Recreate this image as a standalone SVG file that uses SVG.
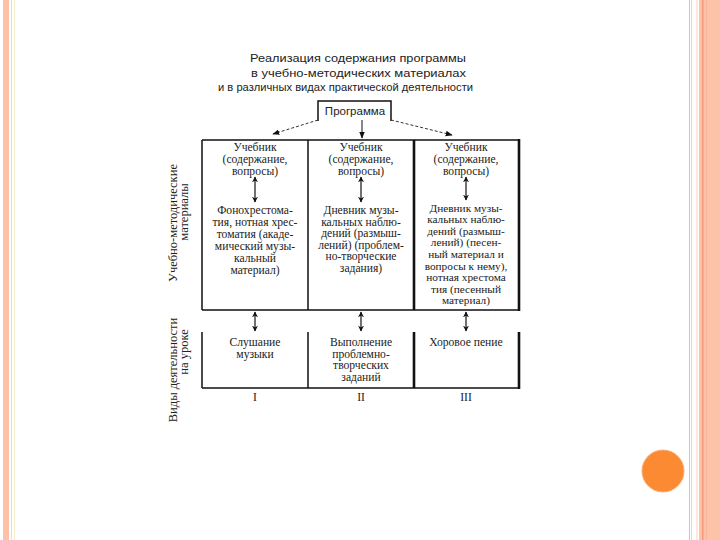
<svg xmlns="http://www.w3.org/2000/svg" width="720" height="540" viewBox="0 0 720 540">
<defs>
<marker id="ah" viewBox="0 0 10 10" refX="9" refY="5" markerWidth="7" markerHeight="7" orient="auto-start-reverse" markerUnits="userSpaceOnUse"><path d="M0,1 L10,5 L0,9 Z" fill="#111"/></marker>
<marker id="dh" viewBox="0 0 10 10" refX="9" refY="5" markerWidth="6" markerHeight="6" orient="auto-start-reverse" markerUnits="userSpaceOnUse"><path d="M0,0 L10,5 L0,10 L3,5 Z" fill="#111"/></marker>
<style>
.t{font-family:"Liberation Sans","DejaVu Sans",sans-serif;font-size:11.5px;fill:#222;text-anchor:middle}
.s{font-family:"Liberation Serif","DejaVu Serif",serif;font-size:11.6px;fill:#222;text-anchor:middle}
.c3{font-size:11.3px}
.v{font-family:"Liberation Serif","DejaVu Serif",serif;font-size:12.5px;fill:#222;text-anchor:middle}
.ln{stroke:#111;stroke-width:1.5;fill:none}
.th{stroke:#111;stroke-width:2.6;fill:none}
.da{stroke:#333;stroke-width:1;stroke-dasharray:3,2;fill:none;marker-end:url(#ah)}
.dbl{stroke:#111;stroke-width:1.2;fill:none;marker-start:url(#dh);marker-end:url(#dh)}
</style>
</defs>
<rect width="720" height="540" fill="#fff"/>
<g id="border">
<rect x="3" y="0" width="6" height="540" fill="#fdc2a6"/>
<rect x="11" y="0" width="1" height="540" fill="#f6d5e0"/>
<rect x="14" y="0" width="1" height="540" fill="#f7edc8"/>
<rect x="689" y="0" width="1" height="540" fill="#dcc0b0"/>
<rect x="691" y="0" width="1" height="540" fill="#ecd8cc"/>
<rect x="696" y="0" width="2" height="540" fill="#fde8da"/>
<rect x="699" y="0" width="21" height="540" fill="#fdc3aa"/>
<rect x="702" y="0" width="1.5" height="540" fill="#f39a7c"/>
<rect x="706" y="0" width="1" height="540" fill="#fbb59a"/>
<circle cx="663" cy="471" r="21" fill="#fb8a33" stroke="#fcae70" stroke-width="1"/>
</g>
<g id="title">
<text class="t" x="358" y="62" textLength="216" lengthAdjust="spacingAndGlyphs">Реализация содержания программы</text>
<text class="t" x="358.5" y="77" textLength="215" lengthAdjust="spacingAndGlyphs">в учебно-методических материалах</text>
<text class="t" x="345.5" y="91" textLength="255" lengthAdjust="spacingAndGlyphs">и в различных видах практической деятельности</text>
</g>
<g id="program">
<path class="ln" d="M318,121 V101 H391 V121" stroke-width="1.3"/>
<text class="t" x="355" y="115">Программа</text>
</g>
<g id="connectors">
<line class="da" x1="318" y1="120" x2="273" y2="134"/>
<line x1="362" y1="120" x2="362" y2="138" stroke="#111" stroke-width="1" marker-end="url(#ah)"/>
<line class="da" x1="391" y1="120" x2="452" y2="135"/>
<line class="dbl" x1="255" y1="177" x2="255" y2="202"/>
<line class="dbl" x1="361" y1="177" x2="361" y2="202"/>
<line class="dbl" x1="466" y1="177" x2="466" y2="200"/>
<line class="dbl" x1="255" y1="312" x2="255" y2="331"/>
<line class="dbl" x1="361" y1="312" x2="361" y2="331"/>
<line class="dbl" x1="466" y1="312" x2="466" y2="331"/>
</g>
<g id="upper-table">
<path class="ln" d="M202,140 H519 M202,310 H519 M202,140 V310 M308,140 V310"/>
<path class="th" d="M414,140 V310 M519,139 V311"/>
</g>
<g id="lower-table">
<path class="ln" d="M202,332 V388 M308,332 V388 M202,388 H519"/>
<path class="th" d="M414,332 V388 M519,332 V389"/>
</g>
<g id="col1">
<text class="s" x="255" y="151">Учебник</text>
<text class="s" x="255" y="163">(содержание,</text>
<text class="s" x="255" y="175">вопросы)</text>
<text class="s" x="255" y="214">Фонохрестома-</text>
<text class="s" x="255" y="226">тия, нотная хрес-</text>
<text class="s" x="255" y="238">томатия (акаде-</text>
<text class="s" x="255" y="250">мический музы-</text>
<text class="s" x="255" y="262">кальный</text>
<text class="s" x="255" y="274">материал)</text>
</g>
<g id="col2">
<text class="s" x="361" y="151">Учебник</text>
<text class="s" x="361" y="163">(содержание,</text>
<text class="s" x="361" y="175">вопросы)</text>
<text class="s" x="361" y="214">Дневник музы-</text>
<text class="s" x="361" y="225.5">кальных наблю-</text>
<text class="s" x="361" y="237">дений (размыш-</text>
<text class="s" x="361" y="248.5">лений) (проблем-</text>
<text class="s" x="361" y="260">но-творческие</text>
<text class="s" x="361" y="271.5">задания)</text>
</g>
<g id="col3">
<text class="s" x="466" y="151">Учебник</text>
<text class="s" x="466" y="163">(содержание,</text>
<text class="s" x="466" y="175">вопросы)</text>
<text class="s c3" x="466" y="211.5">Дневник музы-</text>
<text class="s c3" x="466" y="223.1">кальных наблю-</text>
<text class="s c3" x="466" y="234.7">дений (размыш-</text>
<text class="s c3" x="466" y="246.3">лений) (песен-</text>
<text class="s c3" x="466" y="257.9">ный материал и</text>
<text class="s c3" x="466" y="269.5">вопросы к нему),</text>
<text class="s c3" x="466" y="281.1">нотная хрестома</text>
<text class="s c3" x="466" y="292.7">тия (песенный</text>
<text class="s c3" x="466" y="304.3">материал)</text>
</g>
<g id="lower1">
<text class="s" x="255" y="346">Слушание</text>
<text class="s" x="255" y="358">музыки</text>
<text class="s" x="255" y="401">I</text>
</g>
<g id="lower2">
<text class="s" x="361" y="346">Выполнение</text>
<text class="s" x="361" y="357.5">проблемно-</text>
<text class="s" x="361" y="369">творческих</text>
<text class="s" x="361" y="380.5">заданий</text>
<text class="s" x="361" y="401">II</text>
</g>
<g id="lower3">
<text class="s" x="466" y="346">Хоровое пение</text>
<text class="s" x="466" y="401">III</text>
</g>
<g id="side-labels">
<text class="v" transform="translate(177,223) rotate(-90)">Учебно-методические</text>
<text class="v" transform="translate(188,212) rotate(-90)">материалы</text>
<text class="v" transform="translate(177,370) rotate(-90)">Виды деятельности</text>
<text class="v" transform="translate(188,352) rotate(-90)">на уроке</text>
</g>
</svg>
